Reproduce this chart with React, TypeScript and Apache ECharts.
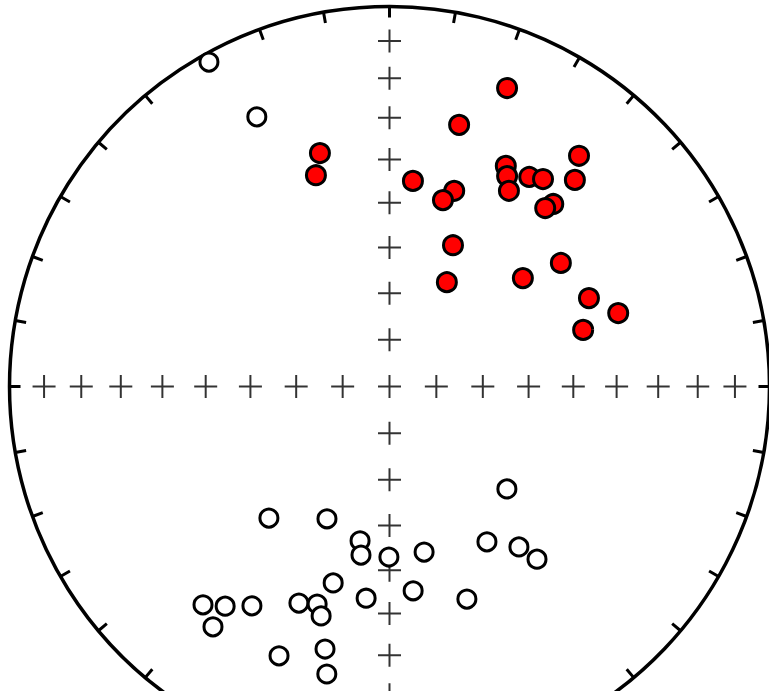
import React, { useEffect, useRef } from "react";
import * as echarts from "echarts";

// Lower-hemisphere directions (positive inclination), in degrees
const lowerDec = [21.5, 14.9, 343.4, 340.8, 6.5, 18.3, 16.0, 27.8, 29.2, 31.4, 33.7, 36.5, 39.4, 41.9, 41.9, 41.1, 24.2, 28.8, 50.9, 54.2, 66.1, 72.2, 73.7];
const lowerInc = [16.7, 29.5, 36.1, 40.8, 44.7, 44.9, 47.7, 34.7, 36.7, 39.5, 34.1, 32.6, 22.5, 27.8, 35.7, 37.7, 56.5, 64.4, 52.7, 43.7, 42.1, 36.9, 45.9];

// Upper-hemisphere directions (negative inclination), in degrees
const upperDec = [222.5, 205.3, 190.8, 189.6, 180.2, 168.2, 196.0, 173.4, 186.3, 220.5, 216.8, 212.1, 202.7, 198.4, 196.6, 216.3, 202.3, 193.8, 192.3, 131.1, 147.9, 141.1, 139.5, 160.0, 330.9, 333.8];
const upperInc = [-51.2, -58.4, -56.0, -52.9, -53.0, -53.3, -45.3, -45.0, -43.3, -25.4, -28.6, -32.4, -38.2, -39.5, -37.1, -22.6, -24.4, -29.6, -23.6, -56.3, -50.1, -44.9, -40.0, -40.2, -2.6, -22.0];

// Reference crosses along the cardinal directions, every 10° of inclination
const gridDecs = [0, 90, 180, 270];
const gridIncs = [10, 20, 30, 40, 50, 60, 70, 80];

// Equal-area (Lambert) projection: distance from centre as a fraction of the primitive
const equalArea = (inc: number) => Math.sqrt(1 - Math.sin((Math.abs(inc) * Math.PI) / 180));

const toPolar = (decs: number[], incs: number[]) =>
  decs.map((d, i) => [equalArea(incs[i]), d]);

const gridPoints: number[][] = [[0, 0]];
gridDecs.forEach((d) => gridIncs.forEach((inc) => gridPoints.push([equalArea(inc), d])));

export default function App() {
  const ref = useRef<HTMLDivElement>(null);

  useEffect(() => {
    if (!ref.current) return;
    const chart = echarts.init(ref.current, null, { renderer: "svg" });
    chart.setOption({
      animation: false,
      backgroundColor: "#fff",
      polar: { center: [389.5, 386.5], radius: 380 },
      angleAxis: {
        type: "value",
        min: 0,
        max: 360,
        interval: 10,
        startAngle: 90,
        clockwise: true,
        axisLine: { lineStyle: { color: "#000", width: 3.5 } },
        axisTick: { show: true, inside: true, length: 11, lineStyle: { color: "#000", width: 3 } },
        axisLabel: { show: false },
        splitLine: { show: false },
      },
      radiusAxis: {
        type: "value",
        min: 0,
        max: 1,
        axisLine: { show: false },
        axisTick: { show: false },
        axisLabel: { show: false },
        splitLine: { show: false },
      },
      series: [
        {
          type: "scatter",
          coordinateSystem: "polar",
          data: gridPoints,
          symbol: "path://M10,0 L10,20 M0,10 L20,10",
          symbolSize: 23,
          itemStyle: { color: "transparent", borderColor: "#000", borderWidth: 2 },
          silent: true,
          z: 1,
        },
        {
          type: "scatter",
          coordinateSystem: "polar",
          data: toPolar(upperDec, upperInc),
          symbol: "circle",
          symbolSize: 18,
          itemStyle: { color: "#fff", borderColor: "#000", borderWidth: 3, opacity: 1 },
          z: 2,
        },
        {
          type: "scatter",
          coordinateSystem: "polar",
          data: toPolar(lowerDec, lowerInc),
          symbol: "circle",
          symbolSize: 19,
          itemStyle: { color: "#ff0000", borderColor: "#000", borderWidth: 3, opacity: 1 },
          z: 3,
        },
      ],
    });
    return () => chart.dispose();
  }, []);

  return (
    <div
      ref={ref}
      style={{ position: "fixed", left: 0, top: 0, width: 769, height: 691, background: "#fff" }}
    />
  );
}
